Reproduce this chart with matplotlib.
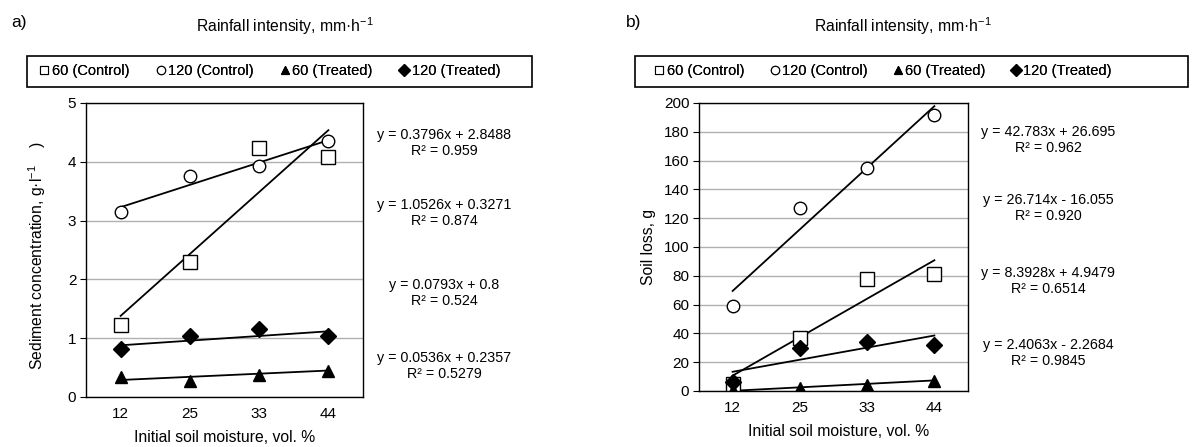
import matplotlib
matplotlib.use("Agg")
import matplotlib.pyplot as plt
import numpy as np
from matplotlib.lines import Line2D
from matplotlib.patches import Rectangle

plt.rcParams['font.family'] = ['Liberation Sans', 'DejaVu Sans']
plt.rcParams['font.size'] = 11

# ---------------- data ----------------
categories = ["12", "25", "33", "44"]
series_names = ["60 (Control)", "120 (Control)", "60 (Treated)", "120 (Treated)"]

# panel a: sediment concentration, g/l
conc_60_control = [1.22, 2.30, 4.23, 4.08]
conc_120_control = [3.15, 3.76, 3.93, 4.35]
conc_60_treated = [0.34, 0.27, 0.37, 0.45]
conc_120_treated = [0.81, 1.03, 1.15, 1.03]
conc_slopes = [1.0526, 0.3796, 0.0536, 0.0793]
conc_intercepts = [0.3271, 2.8488, 0.2357, 0.8]
conc_eq_labels = ["y = 0.3796x + 2.8488\nR² = 0.959",
                  "y = 1.0526x + 0.3271\nR² = 0.874",
                  "y = 0.0793x + 0.8\nR² = 0.524",
                  "y = 0.0536x + 0.2357\nR² = 0.5279"]

# panel b: soil loss, g
loss_60_control = [5, 37, 78, 81]
loss_120_control = [59, 127, 155, 192]
loss_60_treated = [0.5, 2, 4, 7]
loss_120_treated = [6, 30, 34, 32]
loss_slopes = [26.714, 42.783, 2.4063, 8.3928]
loss_intercepts = [-16.055, 26.695, -2.2684, 4.9479]
loss_eq_labels = ["y = 42.783x + 26.695\nR² = 0.962",
                  "y = 26.714x - 16.055\nR² = 0.920",
                  "y = 8.3928x + 4.9479\nR² = 0.6514",
                  "y = 2.4063x - 2.2684\nR² = 0.9845"]

W, H = 1197, 447
fig = plt.figure(figsize=(W / 100, H / 100), dpi=100)

def px(x0, y0, x1, y1):
    return [x0 / W, 1 - y1 / H, (x1 - x0) / W, (y1 - y0) / H]

markers = [("s", 10, "white"), ("o", 9, "white"), ("^", 9, "black"), ("D", 8, "black")]

def draw_panel(ax, series, slopes, intercepts, ymax, ystep):
    x = np.arange(len(categories))
    for (m, ms, fc), vals in zip(markers, series):
        ax.plot(x, vals, linestyle="none", marker=m, markersize=ms,
                markerfacecolor=fc, markeredgecolor="black", markeredgewidth=1.0, zorder=4)
    xt = np.array([x[0], x[-1]])
    for s, b in zip(slopes, intercepts):
        ax.plot(xt, s * (xt + 1) + b, color="black", linewidth=1.3, zorder=3)
    ax.set_xlim(-0.5, len(categories) - 0.5)
    ax.set_ylim(0, ymax)
    ax.set_xticks(x)
    ax.set_xticklabels(categories)
    ax.set_yticks(np.arange(0, ymax + ystep / 2, ystep))
    ax.yaxis.grid(True, color="#b0b0b0", linewidth=1.0)
    ax.set_axisbelow(True)
    ax.tick_params(axis="x", length=0, pad=7, labelsize=11)
    ax.tick_params(axis="y", length=4, width=0.8, direction="out", labelsize=11, pad=3)
    for sp in ax.spines.values():
        sp.set_color("black")
        sp.set_linewidth(1.0)

def legend_box(x0, x1, ix0, ix1):
    fig.add_artist(Rectangle((x0 / W, 1 - 87 / H), (x1 - x0) / W, 31 / H,
                             transform=fig.transFigure, fill=False,
                             edgecolor="black", linewidth=1.2))
    handles = [Line2D([], [], linestyle="none", marker=m, markersize=6,
                      markerfacecolor=fc, markeredgecolor="black", markeredgewidth=0.8)
               for (m, ms, fc) in markers]
    leg = fig.legend(handles, series_names, ncol=4, mode="expand",
                     bbox_to_anchor=(ix0 / W, 1 - 87 / H, (ix1 - ix0) / W, 31 / H),
                     loc="center", bbox_transform=fig.transFigure,
                     handlelength=0.6, handletextpad=0.2, borderaxespad=0,
                     frameon=False, fontsize=10.5, borderpad=0.0, columnspacing=1.0)
    fig.add_artist(leg)

# ---------------- panel a ----------------
axa = fig.add_axes(px(86, 103, 363, 397))
draw_panel(axa, [conc_60_control, conc_120_control, conc_60_treated, conc_120_treated],
           conc_slopes, conc_intercepts, 5, 1)
legend_box(27, 532, 40, 500)
fig.text(11 / W, 1 - 23 / H, "a)", fontsize=12.5, va="center", ha="left")
fig.text(285 / W, 1 - 26 / H, r"Rainfall intensity, mm·h$^{\mathregular{-1}}$",
         fontsize=11.3, va="center", ha="center")
fig.text(225 / W, 1 - 437 / H, "Initial soil moisture, vol. %", fontsize=11.3,
         va="center", ha="center")
fig.text(37 / W, 1 - 256 / H, r"Sediment concentration, g·l$^{\mathregular{-1}}$    )",
         fontsize=11.3, va="center", ha="center", rotation=90)
for lab, yy in zip(conc_eq_labels, [143, 213, 293, 366]):
    fig.text(444 / W, 1 - yy / H, lab, fontsize=10.3, va="center", ha="center",
             multialignment="center", linespacing=1.1)

# ---------------- panel b ----------------
axb = fig.add_axes(px(699, 103, 968, 391))
draw_panel(axb, [loss_60_control, loss_120_control, loss_60_treated, loss_120_treated],
           loss_slopes, loss_intercepts, 200, 20)
legend_box(635, 1188, 655, 1112)
fig.text(626 / W, 1 - 23 / H, "b)", fontsize=12.5, va="center", ha="left")
fig.text(903 / W, 1 - 26 / H, r"Rainfall intensity, mm·h$^{\mathregular{-1}}$",
         fontsize=11.3, va="center", ha="center")
fig.text(839 / W, 1 - 432 / H, "Initial soil moisture, vol. %", fontsize=11.3,
         va="center", ha="center")
fig.text(648 / W, 1 - 247 / H, "Soil loss, g", fontsize=11.3, va="center",
         ha="center", rotation=90)
for lab, yy in zip(loss_eq_labels, [140, 208, 281, 353]):
    fig.text(1048 / W, 1 - yy / H, lab, fontsize=10.3, va="center", ha="center",
             multialignment="center", linespacing=1.1)

fig.savefig("out.png", dpi=100, facecolor="white")
